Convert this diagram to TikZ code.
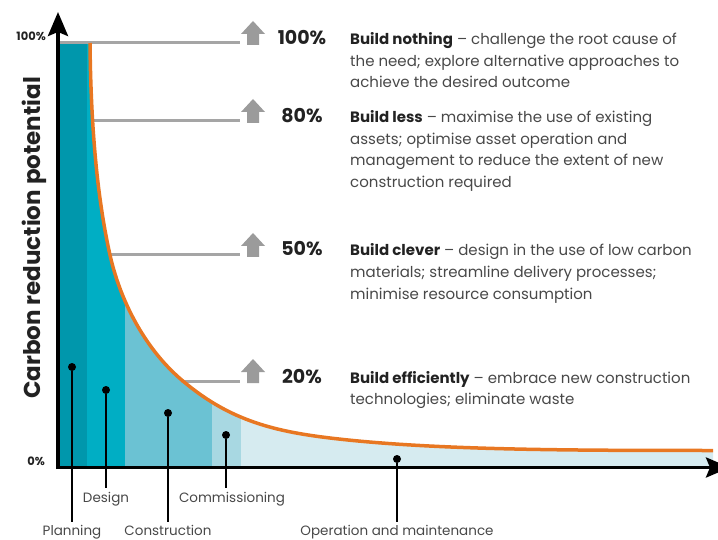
\documentclass[tikz,border=0pt]{standalone}
\usepackage{fontspec}
\setmainfont{Poppins}
\usetikzlibrary{arrows.meta}
\definecolor{cplan}{RGB}{0,151,172}
\definecolor{cdesign}{RGB}{0,174,196}
\definecolor{cconst}{RGB}{107,194,211}
\definecolor{ccomm}{RGB}{168,216,226}
\definecolor{coper}{RGB}{214,235,240}
\definecolor{corange}{RGB}{232,119,34}
\definecolor{linegray}{RGB}{165,165,165}
\definecolor{arrowgray}{RGB}{155,155,155}
\definecolor{textgray}{RGB}{72,72,72}
\definecolor{darktext}{RGB}{34,34,34}
\begin{document}
\begin{tikzpicture}[x=1pt,y=-1pt,
  body/.style={anchor=base west, inner sep=0pt, text=textgray, font=\fontsize{15}{18}\selectfont},
  pct/.style={anchor=base, inner sep=0pt, text=darktext, font=\bfseries\fontsize{19}{22}\selectfont},
  phase/.style={anchor=base, inner sep=0pt, text=textgray, font=\fontsize{13.5}{16}\selectfont},
  axlbl/.style={anchor=base east, inner sep=0pt, text=darktext, font=\bfseries\fontsize{11.5}{13}\selectfont},
  dot/.style={circle, fill=black, inner sep=0pt, minimum size=8pt},
  leader/.style={line width=1.4pt},
  level/.style={draw=linegray, line width=3pt},
  axis/.style={line width=3.5pt, -{Stealth[length=24pt,width=20pt,inset=4pt]}},
  uparr/.pic={\fill[arrowgray] (-6,0) -- (-6,-11) -- (-12,-11) -- (0,-24) -- (12,-11) -- (6,-11) -- (6,0) -- cycle;},
]
\useasboundingbox (0,0) rectangle (718,540);

% filled bands under the curve
\begin{scope}
\clip (58,43) -- (90,43) .. controls (91,140) and (99.1,206.2) .. (110,255) .. controls (119.8,298.9) and (143.6,347.6) .. (181.7,380) .. controls (227.4,418.9) and (270.4,430.9) .. (330,438) .. controls (429.3,449.9) and (563,450.5) .. (713,450.5) -- (713,467) -- (58,467) -- cycle;
\fill[cplan] (58,40) rectangle (87,470);
\fill[cdesign] (87,40) rectangle (125,470);
\fill[cconst] (125,40) rectangle (212,470);
\fill[ccomm] (212,40) rectangle (241,470);
\fill[coper] (241,40) rectangle (714,470);
\end{scope}

% level lines and arrows
\coordinate (l100s) at (58,43);   \coordinate (l100e) at (240,43);
\coordinate (l80s) at (93,121);   \coordinate (l80e) at (240,121);
\coordinate (l50s) at (110,255);  \coordinate (l50e) at (240,255);
\coordinate (l20s) at (181,381);  \coordinate (l20e) at (240,381);
\draw[level] (l100s) -- (l100e);
\draw[level] (l80s) -- (l80e);
\draw[level] (l50s) -- (l50e);
\draw[level] (l20s) -- (l20e);
\pic at (253,45) {uparr};
\pic at (253,123) {uparr};
\pic at (253,257) {uparr};
\pic at (253,383) {uparr};

% curve
\draw[corange, line width=3.5pt] (90,43) .. controls (91,140) and (99.1,206.2) .. (110,255) .. controls (119.8,298.9) and (143.6,347.6) .. (181.7,380) .. controls (227.4,418.9) and (270.4,430.9) .. (330,438) .. controls (429.3,449.9) and (563,450.5) .. (713,450.5);

% axes
\coordinate (ytip) at (58,12);
\coordinate (xtip) at (730,467.5);
\coordinate (ybot) at (58,469);
\coordinate (xleft) at (56.3,467.5);
\draw[axis] (ybot) -- (ytip);
\draw[axis] (xleft) -- (xtip);

% axis labels
\node[rotate=90, inner sep=0pt, text=darktext, font=\bfseries\fontsize{23}{27}\selectfont] (ylab) at (34,238) {Carbon reduction potential};
\node[axlbl] (y100) at (46,41) {100\%};
\node[axlbl] (y0) at (45,465) {0\%};

% percentages
\node[pct] (p100) at (302,45) {100\%};
\node[pct] (p80) at (302,123) {80\%};
\node[pct] (p50) at (302,256) {50\%};
\node[pct] (p20) at (302,383) {20\%};

% descriptions
\node[body] (t1a) at (350,45) {\textcolor{darktext}{\bfseries Build nothing} – challenge the root cause of};
\node[body] (t1b) at (350,66.5) {the need; explore alternative approaches to};
\node[body] (t1c) at (350,88) {achieve the desired outcome};
\node[body] (t2a) at (350,123) {\textcolor{darktext}{\bfseries Build less} – maximise the use of existing};
\node[body] (t2b) at (350,144.5) {assets; optimise asset operation and};
\node[body] (t2c) at (350,166) {management to reduce the extent of new};
\node[body] (t2d) at (350,187.5) {construction required};
\node[body] (t3a) at (350,256) {\textcolor{darktext}{\bfseries Build clever} – design in the use of low carbon};
\node[body] (t3b) at (350,277.5) {materials; streamline delivery processes;};
\node[body] (t3c) at (350,299) {minimise resource consumption};
\node[body] (t4a) at (350,383) {\textcolor{darktext}{\bfseries Build efficiently} – embrace new construction};
\node[body] (t4b) at (350,404.5) {technologies; eliminate waste};

% phase markers
\node[dot] (dplan) at (72,367) {};
\node[dot] (ddes) at (106,390) {};
\node[dot] (dcons) at (168,413) {};
\node[dot] (dcomm) at (226,435) {};
\node[dot] (doper) at (397,459) {};
\node[phase] (lplan) at (72,535) {Planning};
\node[phase] (ldes) at (106,502) {Design};
\node[phase] (lcons) at (168,535) {Construction};
\node[phase] (lcomm) at (232,502) {Commissioning};
\node[phase] (loper) at (397,535) {Operation and maintenance};
\coordinate (eplan) at (72,522);
\coordinate (edes) at (106,488);
\coordinate (econs) at (168,522);
\coordinate (ecomm) at (226,488);
\coordinate (eoper) at (397,522);
\draw[leader] (dplan) -- (eplan);
\draw[leader] (ddes) -- (edes);
\draw[leader] (dcons) -- (econs);
\draw[leader] (dcomm) -- (ecomm);
\draw[leader] (doper) -- (eoper);
\end{tikzpicture}
\end{document}
